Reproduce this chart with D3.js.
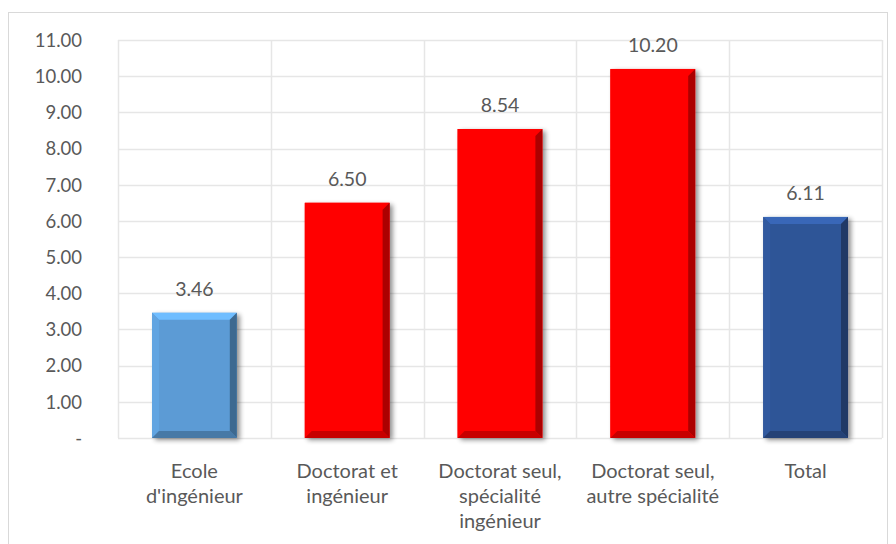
<!DOCTYPE html>
<html><head><meta charset="utf-8">
<script src="https://cdn.jsdelivr.net/npm/d3@7"></script>
<style>body{margin:0;background:#fff}svg{display:block}</style>
</head><body>
<svg id="c" width="896" height="544"></svg>
<script>
const categories = [["Ecole","d'ingénieur"],["Doctorat et","ingénieur"],["Doctorat seul,","spécialité","ingénieur"],["Doctorat seul,","autre spécialité"],["Total"]];
const values = [3.46, 6.50, 8.54, 10.20, 6.11];
const valueLabels = ["3.46","6.50","8.54","10.20","6.11"];
const barColors = ["#5B9BD5","#FF0000","#FF0000","#FF0000","#2F5597"];
const ticks = [0,1,2,3,4,5,6,7,8,9,10,11];

const svg = d3.select("#c");
const font = "Lato, 'Open Sans', sans-serif";
svg.append("rect").attr("x",8.5).attr("y",12.5).attr("width",879).attr("height",560)
  .attr("fill","#fff").attr("stroke","#d9d9d9");

const x = d3.scaleBand().domain(d3.range(values.length)).range([118,882]).paddingInner(0.445).paddingOuter(0.2225);
const xb = d3.scaleBand().domain(d3.range(values.length)).range([118,882]);
const y = d3.scaleLinear().domain([0,11]).range([438,40]);

const defs = svg.append("defs");
const f = defs.append("filter").attr("id","sh").attr("x","-20%").attr("y","-20%").attr("width","150%").attr("height","150%");
f.append("feGaussianBlur").attr("in","SourceAlpha").attr("stdDeviation",2.5);
f.append("feOffset").attr("dx",3).attr("dy",2).attr("result","b");
f.append("feComponentTransfer").append("feFuncA").attr("type","linear").attr("slope",0.45);
const m = f.append("feMerge"); m.append("feMergeNode"); m.append("feMergeNode").attr("in","SourceGraphic");

// gridlines
const g = svg.append("g");
g.selectAll("line.h").data(ticks).join("line")
  .attr("x1",118).attr("x2",882).attr("y1",d=>Math.round(y(d))+0.5).attr("y2",d=>Math.round(y(d))+0.5)
  .attr("stroke","#e6e6e6").attr("stroke-width",1.5);
const bounds = d3.range(values.length).map(i=>xb(i)).concat([882]);
g.selectAll("line.v").data(bounds).join("line")
  .attr("x1",d=>Math.round(d)+0.5).attr("x2",d=>Math.round(d)+0.5).attr("y1",40).attr("y2",438)
  .attr("stroke","#e6e6e6").attr("stroke-width",1.5);

// y axis labels
const yAxis = d3.axisLeft(y).tickValues(ticks).tickSize(0).tickPadding(0)
  .tickFormat(d=> d===0 ? "-" : d3.format(".2f")(d));
const ya = svg.append("g").attr("transform","translate(82,0)").call(yAxis);
ya.select(".domain").remove();
ya.selectAll("text").attr("font-family",font).attr("font-size",18.5).attr("fill","#595959").attr("dy","0.34em");

// bars
const bars = svg.append("g").selectAll("g").data(values).join("g");
bars.each(function(v,i){
  const s = d3.select(this);
  const x0 = x(i), w = x.bandwidth(), y0 = y(v), y1 = y(0), h = y1-y0, b = 7;
  const c = d3.color(barColors[i]);
  s.append("rect").attr("x",x0).attr("y",y0).attr("width",w).attr("height",h).attr("fill",c).attr("filter","url(#sh)");
  const poly = (pts,col)=> s.append("polygon").attr("points",pts.map(p=>p.join(",")).join(" ")).attr("fill",col);
  poly([[x0,y0],[x0+w,y0],[x0+w-b,y0+b],[x0+b,y0+b]], c.brighter(0.55));
  poly([[x0,y0],[x0+b,y0+b],[x0+b,y1-b],[x0,y1]], c.brighter(0.15));
  poly([[x0+w,y0],[x0+w,y1],[x0+w-b,y1-b],[x0+w-b,y0+b]], c.darker(1.1));
  poly([[x0,y1],[x0+w,y1],[x0+w-b,y1-b],[x0+b,y1-b]], c.darker(0.7));
});

// value labels
svg.append("g").selectAll("text").data(values).join("text")
  .attr("x",(d,i)=>x(i)+x.bandwidth()/2).attr("y",d=>y(d)-17)
  .attr("text-anchor","middle").attr("font-family",font).attr("font-size",19.5).attr("fill","#595959")
  .text((d,i)=>valueLabels[i]);

// category labels
const xa = svg.append("g");
categories.forEach((lines,i)=>{
  const t = xa.append("text").attr("x",x(i)+x.bandwidth()/2).attr("y",478)
    .attr("text-anchor","middle").attr("font-family",font).attr("font-size",20).attr("fill","#595959");
  lines.forEach((l,j)=> t.append("tspan").attr("x",x(i)+x.bandwidth()/2).attr("dy", j===0?0:25).text(l));
});
</script>
</body></html>
